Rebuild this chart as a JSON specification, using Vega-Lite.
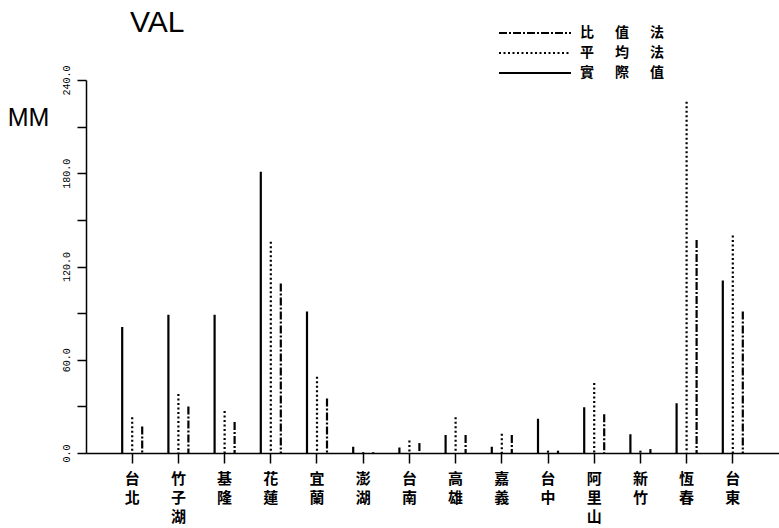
{
  "$schema": "https://vega.github.io/schema/vega-lite/v6.json",
  "width": 693,
  "height": 373,
  "autosize": "none",
  "padding": {"left": 86, "top": 80, "right": 0, "bottom": 75},
  "background": "white",
  "title": {"text": "VAL", "anchor": "start", "frame": "group", "dx": 44, "offset": -18, "fontSize": 30, "font": "Liberation Sans", "fontWeight": "normal", "color": "black"},
  "data": {"values": [
    {"station": "台北", "series": "實際值", "value": 81},
    {"station": "台北", "series": "平均法", "value": 23},
    {"station": "台北", "series": "比值法", "value": 17},
    {"station": "竹子湖", "series": "實際值", "value": 89},
    {"station": "竹子湖", "series": "平均法", "value": 38},
    {"station": "竹子湖", "series": "比值法", "value": 30},
    {"station": "基隆", "series": "實際值", "value": 89},
    {"station": "基隆", "series": "平均法", "value": 27},
    {"station": "基隆", "series": "比值法", "value": 20},
    {"station": "花蓮", "series": "實際值", "value": 181},
    {"station": "花蓮", "series": "平均法", "value": 136},
    {"station": "花蓮", "series": "比值法", "value": 109},
    {"station": "宜蘭", "series": "實際值", "value": 91},
    {"station": "宜蘭", "series": "平均法", "value": 49},
    {"station": "宜蘭", "series": "比值法", "value": 35},
    {"station": "澎湖", "series": "實際值", "value": 4},
    {"station": "澎湖", "series": "平均法", "value": 0.5},
    {"station": "澎湖", "series": "比值法", "value": 0.5},
    {"station": "台南", "series": "實際值", "value": 3.6},
    {"station": "台南", "series": "平均法", "value": 8},
    {"station": "台南", "series": "比值法", "value": 6.4},
    {"station": "高雄", "series": "實際值", "value": 11.6},
    {"station": "高雄", "series": "平均法", "value": 23},
    {"station": "高雄", "series": "比值法", "value": 11.6},
    {"station": "嘉義", "series": "實際值", "value": 4},
    {"station": "嘉義", "series": "平均法", "value": 12.4},
    {"station": "嘉義", "series": "比值法", "value": 11.6},
    {"station": "台中", "series": "實際值", "value": 22},
    {"station": "台中", "series": "平均法", "value": 1.5},
    {"station": "台中", "series": "比值法", "value": 1.5},
    {"station": "阿里山", "series": "實際值", "value": 29.5},
    {"station": "阿里山", "series": "平均法", "value": 45},
    {"station": "阿里山", "series": "比值法", "value": 25},
    {"station": "新竹", "series": "實際值", "value": 12},
    {"station": "新竹", "series": "平均法", "value": 1.5},
    {"station": "新竹", "series": "比值法", "value": 2.5},
    {"station": "恆春", "series": "實際值", "value": 32},
    {"station": "恆春", "series": "平均法", "value": 226},
    {"station": "恆春", "series": "比值法", "value": 137},
    {"station": "台東", "series": "實際值", "value": 111},
    {"station": "台東", "series": "平均法", "value": 140},
    {"station": "台東", "series": "比值法", "value": 91}
  ]},
  "mark": {"type": "rule", "strokeWidth": 2.2, "color": "black"},
  "encoding": {
    "x": {
      "field": "station", "type": "nominal", "sort": null,
      "scale": {"paddingInner": 0, "paddingOuter": 0.5},
      "axis": {"title": null, "labelAngle": 0, "labelExpr": "split(datum.label, '')", "labelFont": "Noto Sans CJK TC", "labelFontSize": 15, "labelFontWeight": "bold", "labelLineHeight": 19, "labelBaseline": "top", "labelPadding": 8, "tickSize": 10, "tickColor": "black", "tickWidth": 1.5, "domainColor": "black", "domainWidth": 1.5, "labelColor": "black"}
    },
    "xOffset": {
      "field": "series", "type": "nominal",
      "scale": {"domain": ["實際值", "平均法", "比值法"], "paddingOuter": 0.81, "paddingInner": 0}
    },
    "y": {
      "field": "value", "type": "quantitative",
      "scale": {"domain": [0, 240], "nice": false},
      "axis": {"values": [0, 30, 60, 90, 120, 150, 180, 210, 240], "labelExpr": "datum.value % 60 == 0 ? format(datum.value, '.1f') : ''", "labelAngle": -90, "labelAlign": "center", "labelBaseline": "bottom", "labelPadding": 6, "labelFont": "Liberation Mono", "labelFontSize": 10, "labelColor": "black", "tickSize": 9, "tickColor": "black", "tickWidth": 1.5, "domainColor": "black", "domainWidth": 1.5, "grid": false, "title": "MM", "titleAngle": 0, "titleX": -58, "titleY": 37, "titleAlign": "center", "titleBaseline": "middle", "titleFont": "Liberation Sans", "titleFontSize": 25, "titleFontWeight": "normal", "titleColor": "black"}
    },
    "y2": {"datum": 0},
    "strokeDash": {
      "field": "series", "type": "nominal",
      "scale": {"domain": ["比值法", "平均法", "實際值"], "range": [[8, 2, 2, 2], [2, 2.5], [1, 0]]},
      "legend": {"orient": "none", "legendX": 436, "legendY": -60, "title": null, "symbolType": "M-3,0H3", "symbolSize": 576, "symbolStrokeWidth": 2, "symbolStrokeColor": "black", "labelFont": "Noto Sans CJK TC", "labelFontSize": 14, "labelFontWeight": "bold", "labelColor": "black", "labelExpr": "join(split(datum.label, ''), '\u3000\u2002')", "rowPadding": 0, "padding": 0, "labelOffset": 32}
    }
  },
  "config": {"view": {"stroke": null}}
}
